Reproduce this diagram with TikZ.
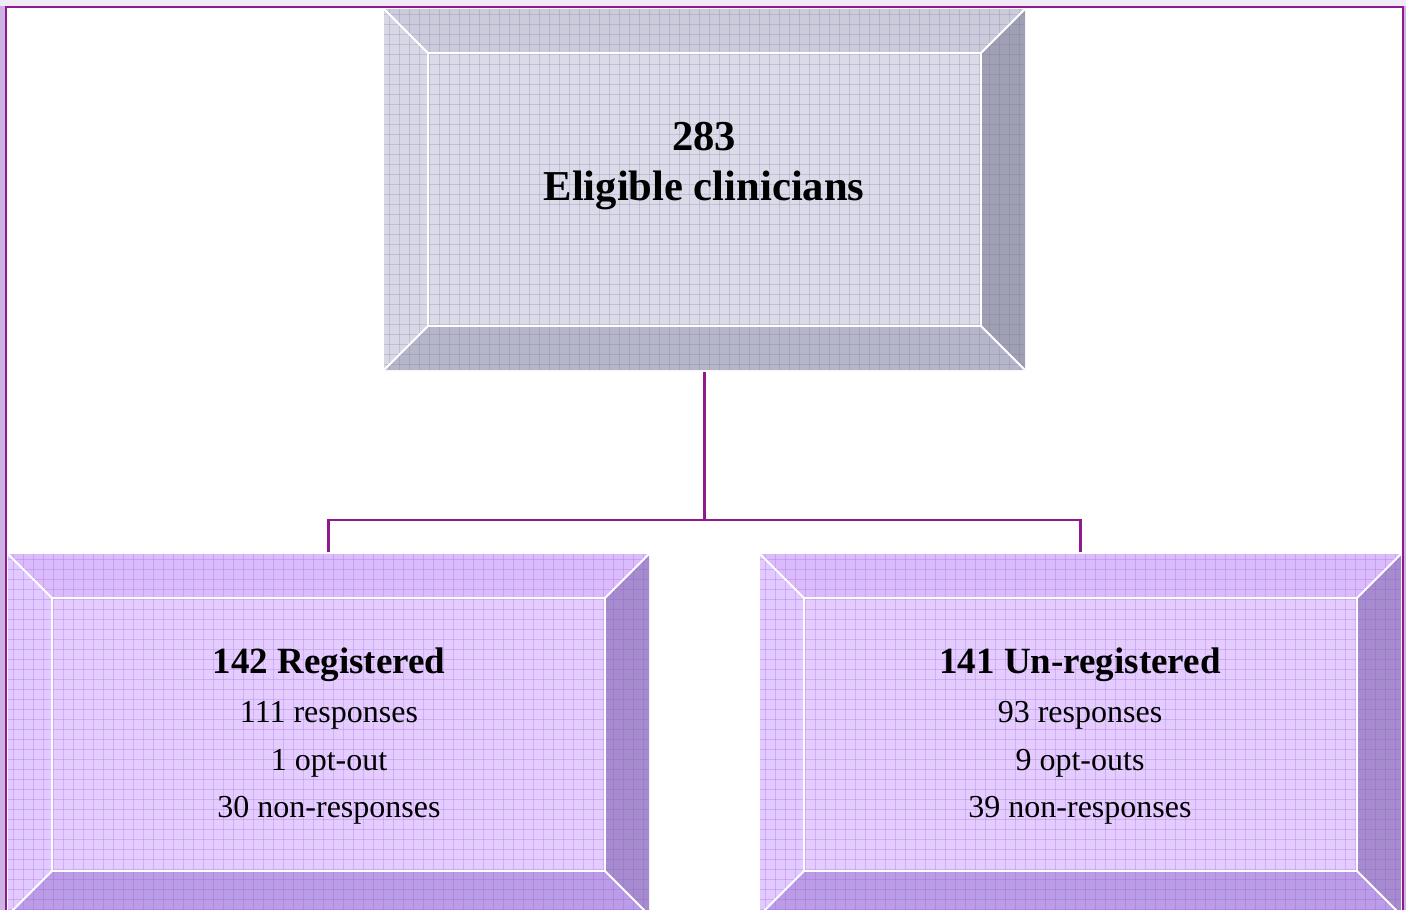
\documentclass[tikz,border=0pt]{standalone}
\usepackage{fontspec}
\setmainfont{Liberation Serif}
\definecolor{framec}{HTML}{8E1A8E}
\definecolor{topstrip}{HTML}{F1EBF8}
\definecolor{sidestrip}{HTML}{CDB2E4}
\definecolor{gface}{HTML}{DADAE8}
\definecolor{gtop}{HTML}{CBCBDB}
\definecolor{gleft}{HTML}{D7D7E5}
\definecolor{gright}{HTML}{A0A0B4}
\definecolor{gbot}{HTML}{B6B6CA}
\definecolor{ggrid}{HTML}{6A6A96}
\definecolor{pface}{HTML}{E5CCFF}
\definecolor{ptop}{HTML}{DABBFC}
\definecolor{pleft}{HTML}{E2C9FF}
\definecolor{pright}{HTML}{A68BCF}
\definecolor{pbot}{HTML}{BB9CE6}
\definecolor{pgrid}{HTML}{8A48CC}
\tikzset{
  conn/.style={draw=framec, line width=2.4pt},
  boxnode/.style={rectangle, inner sep=0pt, outer sep=0pt, minimum width=641pt, minimum height=361pt},
  bigtitle/.style={anchor=base, inner sep=0pt, font=\fontsize{42.6}{50}\selectfont\bfseries},
  subtitle/.style={anchor=base, inner sep=0pt, font=\fontsize{37}{44}\selectfont\bfseries},
  lineitem/.style={anchor=base, inner sep=0pt, font=\fontsize{32}{40}\selectfont},
  bevelline/.style={draw=white, line width=2pt}
}
\newcommand{\mybevelbox}[6]{%
  \node[boxnode] (#1) at ({(#2+#4)/2},{(#3+#5)/2}) {};
  \coordinate (#1-A) at (#2,#3);
  \coordinate (#1-B) at (#4,#3);
  \coordinate (#1-C) at (#4,#5);
  \coordinate (#1-D) at (#2,#5);
  \coordinate (#1-a) at (#2+44,#3+44);
  \coordinate (#1-b) at (#4-44,#3+44);
  \coordinate (#1-c) at (#4-44,#5-44);
  \coordinate (#1-d) at (#2+44,#5-44);
  \fill[#6top] (#1-A) -- (#1-B) -- (#1-b) -- (#1-a) -- cycle;
  \fill[#6left] (#1-A) -- (#1-a) -- (#1-d) -- (#1-D) -- cycle;
  \fill[#6right] (#1-B) -- (#1-C) -- (#1-c) -- (#1-b) -- cycle;
  \fill[#6bot] (#1-D) -- (#1-C) -- (#1-c) -- (#1-d) -- cycle;
  \fill[#6face] (#1-a) rectangle (#1-c);
  \begin{scope}
    \clip (#1-A) rectangle (#1-C);
    \pgfmathtruncatemacro{\gxa}{#2+5}
    \pgfmathtruncatemacro{\gxb}{#2+15}
    \pgfmathtruncatemacro{\gya}{#3+5}
    \pgfmathtruncatemacro{\gyb}{#3+15}
    \foreach \gx in {\gxa,\gxb,...,#4} {\draw[#6grid, opacity=0.22, line width=1pt] (\gx,#3) -- (\gx,#5);}
    \foreach \gy in {\gya,\gyb,...,#5} {\draw[#6grid, opacity=0.22, line width=1pt] (#2,\gy) -- (#4,\gy);}
  \end{scope}
  \draw[bevelline] (#1-a) rectangle (#1-c);
  \draw[bevelline] (#1-A) -- (#1-a) (#1-B) -- (#1-b) (#1-C) -- (#1-c) (#1-D) -- (#1-d);
}
\begin{document}
\begin{tikzpicture}[x=1pt, y=-1pt]
\useasboundingbox (0,0) rectangle (1406,910);
\clip (0,0) rectangle (1406,910);
\fill[white] (0,0) rectangle (1406,910);
\fill[topstrip] (0,0) rectangle (1406,6);
\fill[sidestrip] (0,6) rectangle (5,910);
\fill[sidestrip] (1404,6) rectangle (1406,910);
\draw[conn] (6,910) -- (6,7) -- (1403,7) -- (1403,910);
% boxes
\mybevelbox{top}{384}{9}{1025}{370}{g}
\mybevelbox{left}{8}{554}{649}{915}{p}
\mybevelbox{right}{760}{554}{1401}{915}{p}
% connectors
\coordinate (junction) at (top.south |- {(0,520)});
\draw[conn] ([yshift=-2pt]top.south) -- (junction);
\draw[conn] ([yshift=2pt]left.north) |- (junction) -| ([yshift=2pt]right.north);
% texts
\node[bigtitle] (t1) at (704,150) {283};
\node[bigtitle] (t2) at (704,200) {Eligible clinicians};
\node[subtitle] (l1) at (329,673) {142 Registered};
\node[lineitem] (l2) at (329,722) {111 responses};
\node[lineitem] (l3) at (329,770) {1 opt-out};
\node[lineitem] (l4) at (329,817) {30 non-responses};
\node[subtitle] (r1) at (1080,673) {141 Un-registered};
\node[lineitem] (r2) at (1080,722) {93 responses};
\node[lineitem] (r3) at (1080,770) {9 opt-outs};
\node[lineitem] (r4) at (1080,817) {39 non-responses};
\end{tikzpicture}
\end{document}
